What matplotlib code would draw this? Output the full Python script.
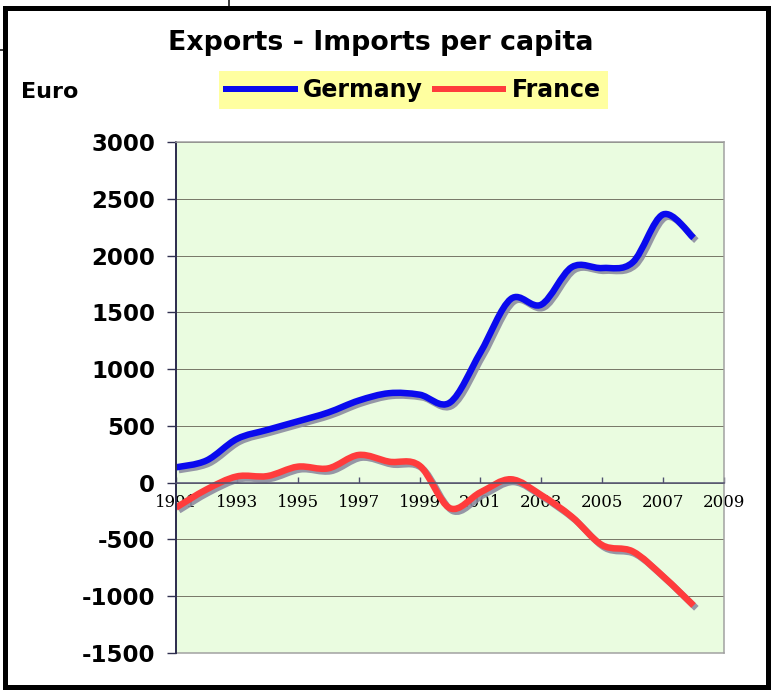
import numpy as np
import matplotlib
matplotlib.use('Agg')
import matplotlib.pyplot as plt
from matplotlib.path import Path
from matplotlib.patches import PathPatch, Rectangle
from matplotlib.lines import Line2D
import matplotlib.patheffects as pe

plt.rcParams['axes.unicode_minus'] = False

years = list(range(1991, 2009))
germany = [135, 195, 385, 465, 540, 618, 723, 788, 775, 706, 1147, 1618, 1568, 1898, 1890, 1940, 2362, 2156]
france = [-220, -60, 55, 58, 141, 126, 244, 185, 150, -225, -85, 30, -110, -300, -550, -605, -825, -1082]
year_ticks = list(range(1991, 2010, 2))
euro_ticks = list(range(-1500, 3001, 500))

W, H = 771, 690
PX = 72 / 100  # points per pixel


def smooth_path(xs, ys):
    # excel-style smoothed line: bezier segments through the data points
    pts = np.column_stack([xs, ys]).astype(float)
    n = len(pts)
    verts = [pts[0]]
    codes = [Path.MOVETO]
    for i in range(n - 1):
        p0 = pts[i - 1] if i > 0 else pts[i]
        p1 = pts[i]
        p2 = pts[i + 1]
        p3 = pts[i + 2] if i + 2 < n else pts[i + 1]
        verts += [p1 + (p2 - p0) / 6, p2 - (p3 - p1) / 6, p2]
        codes += [Path.CURVE4] * 3
    return Path(verts, codes)


fig = plt.figure(figsize=(W / 100, H / 100), dpi=100)
fig.patch.set_facecolor('white')

ax = fig.add_axes([176 / W, (H - 653) / H, (724 - 176) / W, (653 - 142) / H])
ax.set_facecolor('#EAFCE0')
ax.set_xlim(1991, 2009)
ax.set_ylim(-1500, 3000)

ax.set_xticks(year_ticks)
ax.set_yticks(euro_ticks)
ax.yaxis.grid(True, color='#7a7a6a', lw=1 * PX)
ax.set_axisbelow(True)

ax.spines['bottom'].set_position(('data', 0))
ax.spines['bottom'].set_color('#505070')
ax.spines['bottom'].set_linewidth(1.5 * PX)
ax.spines['left'].set_color('#303050')
ax.spines['left'].set_linewidth(2 * PX)
for s in ['top', 'right']:
    ax.spines[s].set_color('#a0a0a0')
    ax.spines[s].set_linewidth(1.5 * PX)
ax.axhline(-1500, color='#a0a0a0', lw=1.5 * PX, clip_on=False)

ax.tick_params(axis='x', direction='in', length=4, width=1, color='#505070', pad=8)
ax.tick_params(axis='y', direction='out', length=6.5, width=1, color='#303050', pad=8.5)
for lab in ax.get_xticklabels():
    lab.set_fontfamily('DejaVu Serif')
    lab.set_fontsize(12)
for lab in ax.get_yticklabels():
    lab.set_fontfamily('DejaVu Sans')
    lab.set_fontweight('bold')
    lab.set_fontsize(16.5)

shadow = [pe.SimpleLineShadow(offset=(2, -2), shadow_color='#8c8ca0', alpha=0.9), pe.Normal()]
for vals, col in [(germany, '#0a0aee'), (france, '#ff3c3c')]:
    patch = PathPatch(smooth_path(years, vals), fill=False, edgecolor=col,
                      lw=6.5 * PX, joinstyle='round', capstyle='butt')
    patch.set_path_effects(shadow)
    ax.add_patch(patch)

handles = [Line2D([], [], color='#0a0aee', lw=6 * PX),
           Line2D([], [], color='#ff3c3c', lw=6 * PX)]
leg = fig.legend(handles, ['Germany', 'France'], loc='center',
                 bbox_to_anchor=(413.5 / W, 1 - 90 / H), ncol=2, frameon=True,
                 facecolor='#FFFFA0', edgecolor='none', framealpha=1, fancybox=False,
                 prop={'family': 'DejaVu Sans', 'weight': 'bold', 'size': 17},
                 handlelength=2.9, handletextpad=0.35, columnspacing=0.5,
                 borderpad=0.3, borderaxespad=0)

fig.text(380.5 / W, 1 - 43 / H, 'Exports - Imports per capita', ha='center', va='center',
         fontsize=19.3, fontweight='bold', family='DejaVu Sans')
fig.text(21 / W, 1 - 92 / H, 'Euro', ha='left', va='center',
         fontsize=16, fontweight='bold', family='DejaVu Sans')

# outer frame and stray lines of the original screenshot
fig.add_artist(Rectangle((5 / W, 3 / H), 763 / W, 679 / H, transform=fig.transFigure,
                         fill=False, edgecolor='black', lw=5 * PX))
fig.add_artist(Line2D([229 / W, 229 / W], [1, 1 - 6 / H], transform=fig.transFigure,
                      color='black', lw=1.5 * PX))
fig.add_artist(Line2D([0, 4 / W], [1 - 50 / H, 1 - 50 / H], transform=fig.transFigure,
                      color='black', lw=1.5 * PX))

fig.savefig('out.png', dpi=100)
